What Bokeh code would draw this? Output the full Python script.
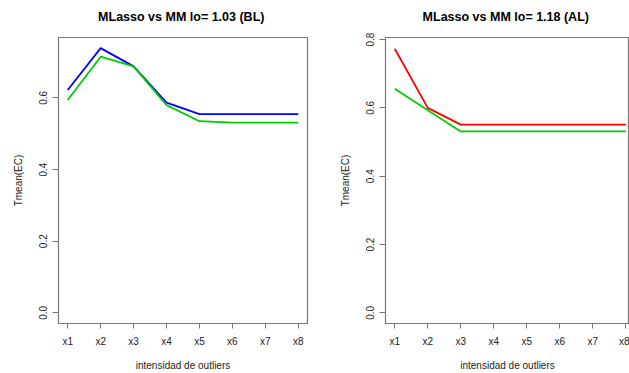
from bokeh.plotting import figure
from bokeh.layouts import row
from bokeh.models import Range1d, FixedTicker, Title
from bokeh.embed import file_html
from bokeh.resources import INLINE

categories = ["x1", "x2", "x3", "x4", "x5", "x6", "x7", "x8"]
xpos = [1, 2, 3, 4, 5, 6, 7, 8]

left_blue = [0.622, 0.739, 0.688, 0.587, 0.555, 0.555, 0.555, 0.555]
left_green = [0.594, 0.715, 0.688, 0.580, 0.535, 0.531, 0.531, 0.531]
right_red = [0.773, 0.600, 0.551, 0.551, 0.551, 0.551, 0.551, 0.551]
right_green = [0.656, 0.593, 0.531, 0.531, 0.531, 0.531, 0.531, 0.531]

left_yticks = [0.0, 0.2, 0.4, 0.6]
right_yticks = [0.0, 0.2, 0.4, 0.6, 0.8]

title_left = "MLasso vs MM  lo= 1.03 (BL)"
title_right = "MLasso vs MM  lo= 1.18 (AL)"
xlabel = "intensidad de outliers"
ylabel = "Tmean(EC)"

FONT = "Liberation Sans"
BOX = "#777777"


def make_fig(title, width, y_range, x_end, yticks, series, mbl, mbr, ylab_standoff):
    p = figure(width=width, height=373, output_backend="svg", toolbar_location=None,
               x_range=Range1d(0.72, x_end), y_range=y_range,
               min_border_left=mbl, min_border_right=mbr,
               min_border_top=37, min_border_bottom=50)
    p.title.text = title
    p.title.align = "center"
    p.title.text_font = FONT
    p.title.text_font_size = "12.5px"
    p.title.text_font_style = "bold"
    p.title.text_color = "black"
    # invisible spacer between the title and the plot frame
    p.add_layout(Title(text=" ", text_font_size="7px", standoff=0), "above")
    p.grid.visible = False
    p.outline_line_color = BOX
    p.outline_line_width = 1.2
    p.background_fill_color = "white"
    p.border_fill_color = "white"

    for vals, col in series:
        p.line(xpos, vals, line_color=col, line_width=1.8)

    xa = p.xaxis[0]
    xa.ticker = FixedTicker(ticks=xpos)
    xa.major_label_overrides = {x: c for x, c in zip(xpos, categories)}
    xa.minor_tick_line_color = None
    xa.major_tick_in = 0
    xa.major_tick_out = 5
    xa.major_tick_line_color = BOX
    xa.axis_line_color = BOX
    xa.major_label_text_font = FONT
    xa.major_label_text_font_size = "10px"
    xa.major_label_text_color = "#222222"
    xa.major_label_standoff = 7
    xa.axis_label = xlabel
    xa.axis_label_text_font = FONT
    xa.axis_label_text_font_size = "10px"
    xa.axis_label_text_font_style = "normal"
    xa.axis_label_text_color = "#222222"
    xa.axis_label_standoff = 10

    ya = p.yaxis[0]
    ya.ticker = FixedTicker(ticks=yticks)
    ya.major_label_overrides = {t: "%.1f" % t for t in yticks}
    ya.major_label_orientation = "vertical"
    ya.minor_tick_line_color = None
    ya.major_tick_in = 0
    ya.major_tick_out = 6
    ya.major_tick_line_color = BOX
    ya.axis_line_color = BOX
    ya.major_label_text_font = FONT
    ya.major_label_text_font_size = "10px"
    ya.major_label_text_color = "#222222"
    ya.major_label_standoff = 5
    ya.axis_label = ylabel
    ya.axis_label_text_font = FONT
    ya.axis_label_text_font_size = "10px"
    ya.axis_label_text_font_style = "normal"
    ya.axis_label_text_color = "#222222"
    ya.axis_label_standoff = ylab_standoff
    return p


p1 = make_fig(title_left, 330, Range1d(-0.0296, 0.7686), 8.28, left_yticks,
              [(left_blue, "#0000FF"), (left_green, "#00CD00")], 58, 23, 13)
p2 = make_fig(title_right, 299, Range1d(-0.031, 0.806), 8.11, right_yticks,
              [(right_red, "#FF0000"), (right_green, "#00CD00")], 55, 0, 13)

layout = row(p1, p2)
open("out.html", "w").write(file_html(layout, INLINE))
